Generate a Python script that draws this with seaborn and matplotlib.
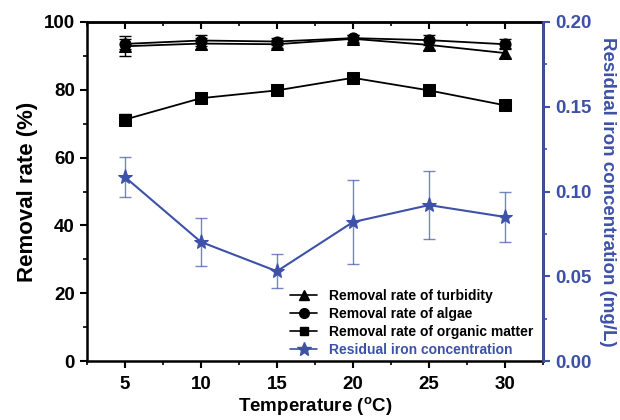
import pandas as pd
import matplotlib
matplotlib.use('Agg')
import matplotlib.pyplot as plt
import seaborn as sns
from matplotlib.ticker import MultipleLocator
from matplotlib.lines import Line2D

# values
temperature = [5, 10, 15, 20, 25, 30]
turbidity = [92.8, 93.6, 93.4, 95.0, 93.2, 90.8]
turbidity_err = [3.0, 1.5, 1.2, 1.2, 1.5, 1.5]
algae = [93.5, 94.5, 94.2, 95.2, 94.6, 93.4]
algae_err = [1.5, 1.5, 1.0, 1.0, 1.5, 1.5]
organic = [71.2, 77.5, 79.8, 83.5, 79.8, 75.4]
organic_err = [1.5, 0.8, 0.8, 1.2, 1.5, 1.3]
iron = [0.1086, 0.0703, 0.053, 0.082, 0.092, 0.085]
iron_err = [0.012, 0.014, 0.010, 0.025, 0.020, 0.015]

blue = '#3D51A8'

df = pd.DataFrame({'temp': temperature, 'turbidity': turbidity, 'algae': algae,
                   'organic': organic, 'iron': iron})

sns.set_style("ticks")
plt.rcParams['font.family'] = ['Liberation Sans', 'DejaVu Sans']
plt.rcParams['font.weight'] = 'bold'
plt.rcParams['text.color'] = 'black'
plt.rcParams['axes.labelcolor'] = 'black'
plt.rcParams['xtick.color'] = 'black'
plt.rcParams['ytick.color'] = 'black'

fig = plt.figure(figsize=(6.2, 4.2), dpi=100)
ax = fig.add_axes([0.140, 0.140, 0.736, 0.808])
ax2 = ax.twinx()

# left axis series
series = [('turbidity', turbidity_err, '^', 'Removal rate of turbidity'),
          ('algae', algae_err, 'o', 'Removal rate of algae'),
          ('organic', organic_err, 's', 'Removal rate of organic matter')]
for col, err, mk, lab in series:
    ax.errorbar(df['temp'], df[col], yerr=err, fmt='none', ecolor='black',
                elinewidth=1.0, capsize=4, capthick=1.0, zorder=2)
    sns.lineplot(data=df, x='temp', y=col, ax=ax, color='black', marker=mk,
                 markersize=8, markeredgecolor='black', linewidth=1.3, zorder=3)

# right axis series
ax2.errorbar(df['temp'], df['iron'], yerr=iron_err, fmt='none', ecolor=blue,
             elinewidth=1.0, capsize=4, capthick=1.0, alpha=0.7, zorder=2)
sns.lineplot(data=df, x='temp', y='iron', ax=ax2, color=blue, marker='*',
             markersize=11, markeredgecolor=blue, linewidth=1.5, zorder=3)

ax.set_xlim(2.5, 32.5)
ax.set_ylim(0, 100)
ax2.set_ylim(0, 0.20)
ax.xaxis.set_major_locator(MultipleLocator(5))
ax.xaxis.set_minor_locator(MultipleLocator(2.5))
ax.yaxis.set_major_locator(MultipleLocator(20))
ax.yaxis.set_minor_locator(MultipleLocator(10))
ax2.yaxis.set_minor_locator(MultipleLocator(0.025))
ax2.set_yticks([0, 0.05, 0.10, 0.15, 0.20])
ax2.set_yticklabels(['0.00', '0.05', '0.10', '0.15', '0.20'])

for s in ax.spines.values():
    s.set_linewidth(1.8)
    s.set_color('black')
ax2.spines['right'].set_color(blue)
ax2.spines['right'].set_linewidth(1.8)
for side in ['left', 'top', 'bottom']:
    ax2.spines[side].set_visible(False)

ax.tick_params(axis='both', which='major', direction='out', length=5, width=1.5,
               labelsize=13.5)
ax.tick_params(axis='both', which='minor', direction='out', length=3, width=1.2)
ax.tick_params(axis='x', which='major', pad=6)

# ticks on the top spine point inward
top = ax.secondary_xaxis('top')
top.xaxis.set_major_locator(MultipleLocator(5))
top.xaxis.set_minor_locator(MultipleLocator(2.5))
top.tick_params(which='major', direction='in', length=5, width=1.5, labeltop=False)
top.tick_params(which='minor', direction='in', length=3, width=1.2)
top.spines['top'].set_linewidth(1.8)

ax2.tick_params(axis='y', which='major', direction='out', length=5, width=1.5,
                labelsize=13.5, colors=blue)
ax2.tick_params(axis='y', which='minor', direction='out', length=3, width=1.2, colors=blue)

ax.set_xlabel('Temperature ($\\mathregular{^o}$C)', fontsize=13.5, fontweight='bold', labelpad=1)
ax.set_ylabel('Removal rate (%)', fontsize=16, fontweight='bold', labelpad=4)
ax2.set_ylabel('Residual iron concentration (mg/L)', fontsize=13.5, fontweight='bold',
               color=blue, rotation=270, labelpad=18)

handles = [Line2D([], [], color='black', marker='^', markersize=7, linewidth=1.2),
           Line2D([], [], color='black', marker='o', markersize=7, linewidth=1.2),
           Line2D([], [], color='black', marker='s', markersize=6, linewidth=1.2),
           Line2D([], [], color=blue, marker='*', markersize=10, linewidth=1.2)]
labels = [s[3] for s in series] + ['Residual iron concentration']
leg = ax2.legend(handles, labels, loc='lower right', bbox_to_anchor=(1.005, -0.025),
                 frameon=False, handlelength=2.0, labelspacing=0.3,
                 prop={'weight': 'bold', 'size': 10})
leg.get_texts()[3].set_color(blue)

plt.savefig('out.png', dpi=100)
